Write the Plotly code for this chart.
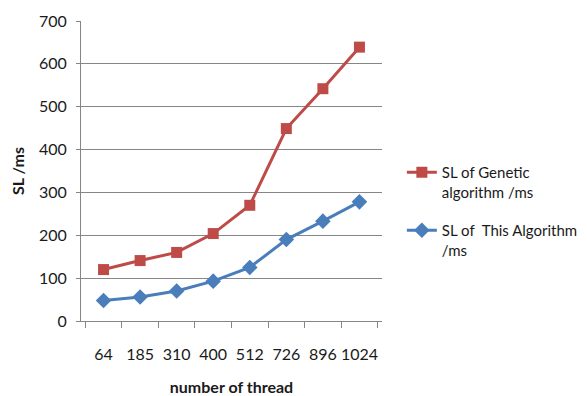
import plotly.graph_objects as go

threads = ["64", "185", "310", "400", "512", "726", "896", "1024"]
genetic = [120, 141, 160, 204, 270, 449, 542, 639]
this_alg = [48, 56, 70, 93, 125, 190, 233, 278]

FONT = "Lato, 'Open Sans', sans-serif"
RED = "#BE4B48"
BLUE = "#4A7EBB"

fig = go.Figure()
fig.add_trace(go.Scatter(
    x=threads, y=genetic, mode="lines+markers",
    name="SL of Genetic<br>algorithm /ms", legendgroup="g",
    line=dict(color=RED, width=3),
    marker=dict(symbol="square", size=11, color=RED),
))
fig.add_trace(go.Scatter(
    x=threads, y=this_alg, mode="lines+markers",
    name="SL of  This Algorithm<br>/ms", legendgroup="t",
    line=dict(color=BLUE, width=3),
    marker=dict(symbol="diamond", size=12, color=BLUE),
))

fig.update_layout(
    width=579, height=388,
    margin=dict(l=73, r=205, t=13, b=75, autoexpand=False),
    paper_bgcolor="white", plot_bgcolor="white",
    font=dict(family=FONT, size=16, color="#1a1a1a"),
    showlegend=True,
    legend=dict(
        x=1.066, xanchor="left", y=0.55, yanchor="top",
        font=dict(size=15), valign="top", tracegroupgap=16,
        itemwidth=30, bgcolor="rgba(0,0,0,0)",
    ),
)
fig.update_xaxes(
    type="category", tickson="boundaries", ticks="outside", ticklen=6,
    tickcolor="#868686", showline=True, linecolor="#868686", linewidth=1,
    showgrid=False, ticklabelstandoff=19, tickangle=0, automargin=False,
    tickfont=dict(size=16),
    title=dict(text="<b>number of thread</b>", font=dict(size=16), standoff=22),
)
fig.update_yaxes(
    range=[0, 700], dtick=100, ticks="outside", ticklen=4, tickcolor="#868686",
    showline=True, linecolor="#868686", linewidth=1, automargin=False,
    showgrid=True, gridcolor="#868686", gridwidth=1, zeroline=False,
    ticklabelstandoff=6, tickfont=dict(size=16),
    title=dict(text="<b>SL /ms</b>", font=dict(size=16), standoff=15),
)

fig.write_html("out.html")
